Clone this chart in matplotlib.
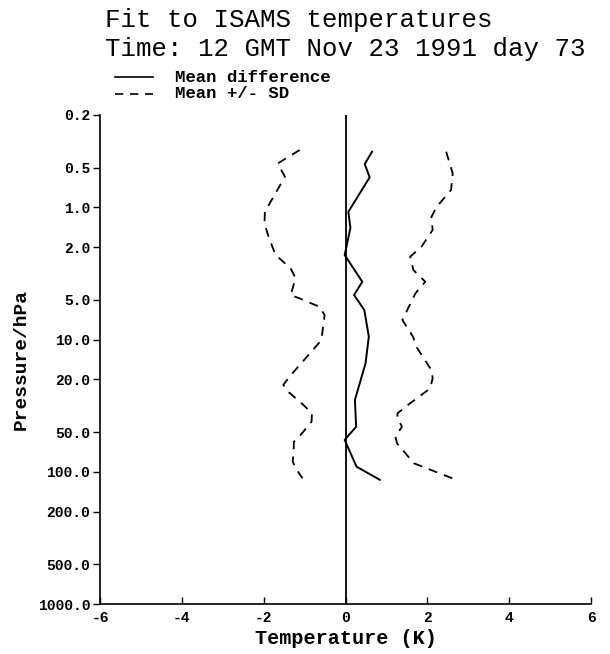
import numpy as np
import matplotlib
matplotlib.use("Agg")
import matplotlib.pyplot as plt
from matplotlib.lines import Line2D

# =============================
# Data
# =============================
title_lines = ["Fit to ISAMS temperatures", "Time: 12 GMT Nov 23 1991 day 73"]
legend_labels = ["Mean difference", "Mean +/- SD"]

# mean difference profile (K) vs pressure (hPa)
mean_p = [0.379, 0.470, 0.592, 1.08, 1.43, 2.29, 3.65, 4.60, 5.97, 9.51,
          15.1, 28.6, 45.6, 57.4, 91.5, 115.0]
mean_t = [0.65, 0.47, 0.59, 0.07, 0.12, -0.02, 0.41, 0.21, 0.46, 0.57,
          0.49, 0.23, 0.26, -0.02, 0.27, 0.84]

# mean + SD
upper_p = [0.379, 0.552, 0.738, 0.988, 1.18, 1.48, 1.98, 2.36, 2.98, 3.65,
           4.46, 7.11, 9.51, 11.3, 17.0, 19.6, 23.4, 30.3, 36.1, 39.4,
           45.6, 54.3, 60.9, 86.2, 112.0]
upper_t = [2.46, 2.62, 2.58, 2.23, 2.10, 2.13, 1.86, 1.58, 1.66, 1.95,
           1.71, 1.39, 1.65, 1.73, 2.10, 2.13, 2.07, 1.58, 1.27, 1.27,
           1.38, 1.22, 1.26, 1.67, 2.61]

# mean - SD
lower_p = [0.368, 0.464, 0.521, 0.586, 1.08, 1.32, 1.67, 2.29, 2.89, 3.44,
           4.60, 4.87, 5.64, 6.51, 10.1, 19.1, 22.0, 24.8, 31.2, 36.1,
           41.8, 52.7, 59.2, 72.4, 83.8, 96.9, 112.0]
lower_t = [-1.12, -1.65, -1.57, -1.48, -1.97, -1.98, -1.88, -1.71, -1.34, -1.22,
           -1.34, -1.13, -0.64, -0.51, -0.59, -1.37, -1.52, -1.40, -1.03, -0.82,
           -0.83, -1.10, -1.26, -1.27, -1.29, -1.19, -1.05]

p_ticks = [0.2, 0.5, 1.0, 2.0, 5.0, 10.0, 20.0, 50.0, 100.0, 200.0, 500.0, 1000.0]
t_ticks = [-6, -4, -2, 0, 2, 4, 6]

# =============================
# Figure
# =============================
W, H = 610, 654
mono = "Liberation Mono"

fig = plt.figure(figsize=(W / 100, H / 100), dpi=100)
ax = fig.add_axes([100 / W, 1 - 604 / H, 491 / W, 489 / H])

dash_style = dict(color="black", lw=1.3, linestyle=(0, (5, 4)))
ax.plot(mean_t, mean_p, color="black", lw=1.4)
ax.plot(upper_t, upper_p, **dash_style)
ax.plot(lower_t, lower_p, **dash_style)
ax.axvline(0, color="black", lw=1.3)

ax.set_yscale("log")
ax.set_ylim(1000, 0.2)
ax.set_xlim(-6, 6)
ax.set_yticks(p_ticks)
ax.set_yticklabels([f"{p:.1f}" for p in p_ticks])
ax.yaxis.set_minor_locator(matplotlib.ticker.NullLocator())
ax.set_xticks(t_ticks)
ax.set_xticklabels([str(t) for t in t_ticks])

for side in ("top", "right"):
    ax.spines[side].set_visible(False)
for side in ("left", "bottom"):
    ax.spines[side].set_linewidth(1.2)

ax.tick_params(axis="y", direction="out", length=5, width=1, pad=2)
ax.tick_params(axis="x", direction="in", length=5, width=1, pad=5)
for lab in ax.get_xticklabels() + ax.get_yticklabels():
    lab.set_fontfamily(mono)
    lab.set_fontweight("bold")
    lab.set_fontsize(10.5)

ax.set_xlabel("Temperature (K)", fontfamily=mono, fontweight="bold", fontsize=14.5, labelpad=3)
ax.set_ylabel("Pressure/hPa", fontfamily=mono, fontweight="bold", fontsize=14, labelpad=6)

# title block
fig.text(105 / W, 1 - 27 / H, title_lines[0], fontfamily=mono, fontsize=18.5, va="baseline")
fig.text(105 / W, 1 - 56 / H, title_lines[1], fontfamily=mono, fontsize=18.5, va="baseline")

# hand-drawn legend
fig.add_artist(Line2D([115 / W, 153 / W], [1 - 77 / H] * 2, color="black", lw=1.2))
fig.add_artist(Line2D([115 / W, 153 / W], [1 - 94 / H] * 2, color="black", lw=1.2,
                      linestyle=(0, (5, 4))))
fig.text(175 / W, 1 - 77 / H, legend_labels[0], fontfamily=mono, fontweight="bold",
         fontsize=12.5, va="center")
fig.text(175 / W, 1 - 94 / H, legend_labels[1], fontfamily=mono, fontweight="bold",
         fontsize=12.5, va="center")

fig.savefig("out.png", dpi=100)
